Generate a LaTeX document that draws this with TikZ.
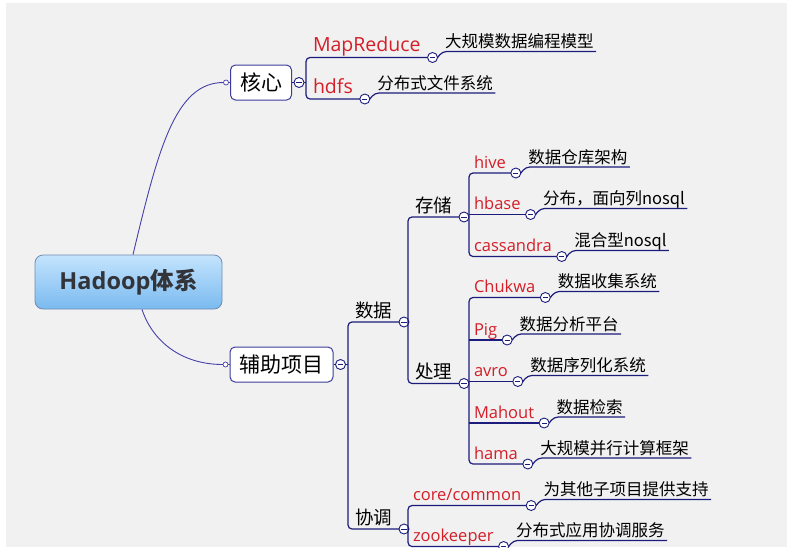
\documentclass[tikz,border=0pt]{standalone}
\usepackage{fontspec}
\setmainfont{Noto Sans CJK SC}
\newfontfamily\latinfont{Open Sans}
\usepackage{tikz}
\usetikzlibrary{positioning}
\definecolor{paper}{RGB}{241,241,241}
\definecolor{linenavy}{RGB}{28,28,124}
\definecolor{curveblue}{RGB}{70,64,170}
\definecolor{itemred}{RGB}{212,30,40}
\definecolor{boxedge}{RGB}{60,60,156}
\definecolor{roottop}{RGB}{196,228,253}
\definecolor{rootbot}{RGB}{122,186,240}
\definecolor{rootedge}{RGB}{112,140,178}
\definecolor{rootgrey}{RGB}{50,52,58}
\tikzset{
root/.style={draw=rootedge, line width=0.8pt, rounded corners=8pt, top color=roottop, bottom color=rootbot, minimum width=187pt, minimum height=54pt, text=rootgrey, font=\bfseries\fontsize{23.5}{26}\selectfont}, % the central topic
topic/.style={draw=boxedge, fill=white, line width=1pt, rounded corners=5pt, minimum height=35pt, inner xsep=9.5pt, font=\fontsize{21}{24}\selectfont}, % main topics
sub/.style={anchor=south west, inner xsep=7pt, inner ysep=5pt, text depth=0pt, outer sep=0pt, font=\fontsize{18.5}{20}\selectfont}, % second level
bigitem/.style={anchor=south west, inner xsep=7pt, inner ysep=6pt, text depth=0pt, outer sep=0pt, text=itemred, font=\latinfont\fontsize{19.5}{22}\selectfont}, % projects under the core
item/.style={anchor=south west, inner xsep=5pt, inner ysep=5pt, text depth=0pt, outer sep=0pt, text=itemred, font=\latinfont\fontsize{16.5}{19}\selectfont}, % projects
note/.style={inner xsep=2.5pt, inner ysep=4pt, text depth=0pt, outer sep=0pt, font=\fontsize{16.5}{19}\selectfont}, % what a project does
fold/.style={circle, draw=linenavy, fill=white, line width=0.9pt, minimum size=10pt, inner sep=0pt, outer sep=0pt,
  path picture={\draw[linenavy, line width=0.9pt] ([xshift=-2.6pt]path picture bounding box.center) -- ([xshift=2.6pt]path picture bounding box.center);}}, % the collapse button
knob/.style={circle, draw=curveblue, fill=white, line width=0.7pt, minimum size=5pt, inner sep=0pt, outer sep=0pt}, % end of a curve
branch/.style={draw=linenavy, line width=1.2pt, rounded corners=4pt}, % brackets and underlines
curve/.style={draw=curveblue, line width=0.9pt}, % curves from the centre
}
\begin{document}
\begin{tikzpicture}[x=1pt, y=-1pt]
\useasboundingbox (0,0) rectangle (787,547);
\fill[white] (0,0) rectangle (787,547);
\fill[paper] (6,3) rectangle (787,547);

% centre and main topics
\node[root] (hadoop) at (128.5,282) {{\latinfont Hadoop}体系};
\node[topic] (kernel) at (261,82.5) {核心};
\node[topic] (aux) at (281.5,364.5) {辅助项目};
\node[knob, left=1.5pt of kernel.west] (kernel-k) {};
\node[knob, left=1.5pt of aux.west] (aux-k) {};
\node[fold, right=2pt of kernel.east] (kernel-f) {};
\node[fold, right=2pt of aux.east] (aux-f) {};

\draw[curve] ([xshift=4.5pt]hadoop.north) .. controls (158,150) and (175,82.5) .. (kernel-k.west);
\draw[curve] ([xshift=13.5pt]hadoop.south) .. controls (152,340) and (180,364.5) .. (aux-k.west);
\draw[curve] (kernel-k.east) -- (kernel.west);
\draw[curve] (aux-k.east) -- (aux.west);
\draw[branch] (kernel.east) -- (kernel-f.west);
\draw[branch] (aux.east) -- (aux-f.west);

% core
\node[bigitem] (mapred) at (306,57.5) {MapReduce};
\node[fold, right=0pt of mapred.south east] (mapred-f) {};
\node[note, above right=6pt and 5pt of mapred-f.east] (mapred-n) {大规模数据编程模型};
\node[bigitem] (hdfs) at (306,99) {hdfs};
\node[fold, right=0pt of hdfs.south east] (hdfs-f) {};
\node[note, above right=6pt and 5pt of hdfs-f.east] (hdfs-n) {分布式文件系统};

\draw[branch] (kernel-f.east) -- (kernel-f.east -| mapred.south west);
\draw[branch] (mapred-f.west) -- (mapred.south west) -- (hdfs.south west) -- (hdfs-f.west);
\draw[branch] (mapred-f.east) -- (mapred-n.south west) -- (mapred-n.south east);
\draw[branch] (hdfs-f.east) -- (hdfs-n.south west) -- (hdfs-n.south east);

% second level
\node[sub] (data) at (348,322) {数据};
\node[fold, right=0pt of data.south east] (data-f) {};
\node[sub] (coord) at (348,529) {协调};
\node[fold, right=0pt of coord.south east] (coord-f) {};
\node[sub] (store) at (408,217) {存储};
\node[fold, right=0pt of store.south east] (store-f) {};
\node[sub] (proc) at (408,383.5) {处理};
\node[fold, right=0pt of proc.south east] (proc-f) {};

\draw[branch] (aux-f.east) -- (aux-f.east -| data.south west);
\draw[branch] (data-f.west) -- (data.south west) -- (coord.south west) -- (coord-f.west);
\draw[branch] (data-f.east) -- (data-f.east -| store.south west);
\draw[branch] (store-f.west) -- (store.south west) -- (proc.south west) -- (proc-f.west);

% storage
\node[item] (hive) at (469,173) {hive};
\node[fold, right=0pt of hive.south east] (hive-f) {};
\node[note, above right=6pt and 5pt of hive-f.east] (hive-n) {数据仓库架构};
\node[item] (hbase) at (469,214.5) {hbase};
\node[fold, right=0pt of hbase.south east] (hbase-f) {};
\node[note, above right=6pt and 5pt of hbase-f.east] (hbase-n) {分布，面向列nosql};
\node[item] (cass) at (469,256.5) {cassandra};
\node[fold, right=0pt of cass.south east] (cass-f) {};
\node[note, above right=6pt and 5pt of cass-f.east] (cass-n) {混合型nosql};

\draw[branch] (store-f.east) -- (store-f.east -| hive.south west);
\draw[branch] (hive-f.west) -- (hive.south west) -- (cass.south west) -- (cass-f.west);
\draw[branch] (hbase.south west) -- (hbase-f.west);
\draw[branch] (hive-f.east) -- (hive-n.south west) -- (hive-n.south east);
\draw[branch] (hbase-f.east) -- (hbase-n.south west) -- (hbase-n.south east);
\draw[branch] (cass-f.east) -- (cass-n.south west) -- (cass-n.south east);

% processing
\node[item] (chukwa) at (469,297.5) {Chukwa};
\node[fold, right=0pt of chukwa.south east] (chukwa-f) {};
\node[note, above right=6pt and 5pt of chukwa-f.east] (chukwa-n) {数据收集系统};
\node[item] (pig) at (469,340) {Pig};
\node[fold, right=0pt of pig.south east] (pig-f) {};
\node[note, above right=6pt and 5pt of pig-f.east] (pig-n) {数据分析平台};
\node[item] (avro) at (469,381.5) {avro};
\node[fold, right=0pt of avro.south east] (avro-f) {};
\node[note, above right=6pt and 5pt of avro-f.east] (avro-n) {数据序列化系统};
\node[item] (mahout) at (469,423) {Mahout};
\node[fold, right=0pt of mahout.south east] (mahout-f) {};
\node[note, above right=6pt and 5pt of mahout-f.east] (mahout-n) {数据检索};
\node[item] (hama) at (469,464) {hama};
\node[fold, right=0pt of hama.south east] (hama-f) {};
\node[note, above right=6pt and 5pt of hama-f.east] (hama-n) {大规模并行计算框架};

\draw[branch] (proc-f.east) -- (proc-f.east -| chukwa.south west);
\draw[branch] (chukwa-f.west) -- (chukwa.south west) -- (hama.south west) -- (hama-f.west);
\draw[branch] (pig.south west) -- (pig-f.west);
\draw[branch] (avro.south west) -- (avro-f.west);
\draw[branch] (mahout.south west) -- (mahout-f.west);
\draw[branch] (chukwa-f.east) -- (chukwa-n.south west) -- (chukwa-n.south east);
\draw[branch] (pig-f.east) -- (pig-n.south west) -- (pig-n.south east);
\draw[branch] (avro-f.east) -- (avro-n.south west) -- (avro-n.south east);
\draw[branch] (mahout-f.east) -- (mahout-n.south west) -- (mahout-n.south east);
\draw[branch] (hama-f.east) -- (hama-n.south west) -- (hama-n.south east);

% coordination
\node[item] (common) at (408,505.5) {core/common};
\node[fold, right=0pt of common.south east] (common-f) {};
\node[note, above right=6pt and 5pt of common-f.east] (common-n) {为其他子项目提供支持};
\node[item] (zk) at (408,546.5) {zookeeper};
\node[fold, right=0pt of zk.south east] (zk-f) {};
\node[note, above right=6pt and 5pt of zk-f.east] (zk-n) {分布式应用协调服务};

\draw[branch] (coord-f.east) -- (coord-f.east -| common.south west);
\draw[branch] (common-f.west) -- (common.south west) -- (zk.south west) -- (zk-f.west);
\draw[branch] (common-f.east) -- (common-n.south west) -- (common-n.south east);
\draw[branch] (zk-f.east) -- (zk-n.south west) -- (zk-n.south east);
\end{tikzpicture}
\end{document}
